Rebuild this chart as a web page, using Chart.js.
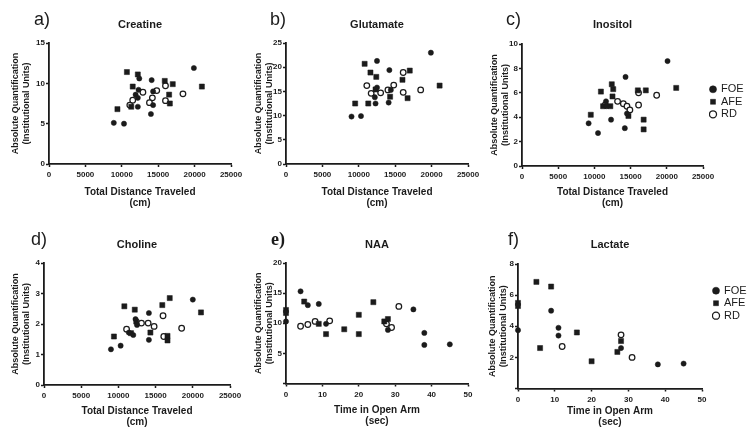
<!DOCTYPE html>
<html><head><meta charset="utf-8">
<script src="https://cdn.jsdelivr.net/npm/chart.js@4.4.1/dist/chart.umd.min.js"></script>
<style>
html,body{margin:0;padding:0;background:#fff;}
#wrap{position:relative;width:756px;height:442px;overflow:hidden;background:#fff;}
#wrap canvas{position:absolute;}
.lbl{position:absolute;font-family:"Liberation Sans",Arial,sans-serif;font-size:18px;line-height:18px;color:#1b1b1b;}
</style></head><body>
<div id="wrap">
<canvas id="cA" width="250" height="221" style="left:0px;top:0px"></canvas>
<canvas id="cB" width="235" height="221" style="left:250px;top:0px"></canvas>
<canvas id="cC" width="271" height="221" style="left:485px;top:0px"></canvas>
<canvas id="cD" width="250" height="221" style="left:0px;top:221px"></canvas>
<canvas id="cE" width="235" height="221" style="left:250px;top:221px"></canvas>
<canvas id="cF" width="271" height="221" style="left:485px;top:221px"></canvas>
<div class="lbl" id="lA" style="left:34px;top:10px"></div>
<div class="lbl" id="lB" style="left:270px;top:10px"></div>
<div class="lbl" id="lC" style="left:506px;top:10px"></div>
<div class="lbl" id="lD" style="left:31px;top:230px"></div>
<div class="lbl" id="lE" style="left:271px;top:230px;font-family:'Liberation Serif',serif;font-weight:bold"></div>
<div class="lbl" id="lF" style="left:508px;top:230px"></div>
</div>
<script>
// ---------- data ----------
const groups = ['FOE', 'AFE', 'RD'];
const panelLetters = ['a)', 'b)', 'c)', 'd)', 'e)', 'f)'];
const panelTitles = ['Creatine', 'Glutamate', 'Inositol', 'Choline', 'NAA', 'Lactate'];
const yAxisTitle = ['Absolute Quantification', '(Institutional Units)'];
const xTitleDistance = ['Total Distance Traveled', '(cm)'];
const xTitleTime = ['Time in Open Arm', '(sec)'];

const creatineFOE = [[8900,5.1],[10300,5.0],[12400,10.6],[14100,10.4],[19900,11.9],[12300,9.2],[14300,9.0],[11900,8.6],[12200,8.2],[12200,7.1],[14300,7.3],[14000,6.2]];
const creatineAFE = [[9400,6.8],[10700,11.4],[12200,11.1],[11500,9.6],[15900,10.3],[17000,9.9],[21000,9.6],[11300,7.1],[16500,8.6],[16600,7.5]];
const creatineRD  = [[12900,8.9],[14800,9.1],[11500,7.9],[11100,7.3],[14200,8.2],[13800,7.6],[16000,9.7],[16000,7.85],[18400,8.7]];

const glutamateFOE = [[9000,9.8],[10300,9.9],[12500,21.3],[14200,19.4],[19900,23.0],[12500,15.8],[12200,13.8],[12300,12.5],[14400,15.3],[14100,12.7]];
const glutamateAFE = [[9500,12.5],[10800,20.7],[11600,18.9],[12400,18.0],[17000,19.3],[16000,17.4],[21100,16.2],[12300,15.4],[11300,12.5],[14300,13.9],[16700,13.6]];
const glutamateRD  = [[16100,18.9],[11100,16.2],[11700,14.6],[13000,14.7],[14000,15.3],[14800,16.3],[16100,14.8],[18500,15.3]];

const inositolFOE = [[9200,3.5],[10500,2.7],[14300,7.3],[20100,8.6],[11600,5.3],[11700,4.9],[12300,3.8],[14500,4.3],[14200,3.1]];
const inositolAFE = [[9500,4.2],[10900,6.1],[12400,6.7],[12600,6.3],[12500,5.7],[16000,6.2],[17100,6.2],[21300,6.4],[11200,4.9],[12200,4.9],[14700,4.1],[16800,3.8],[16800,3.0]];
const inositolRD  = [[18600,5.8],[16100,6.0],[16100,5.0],[13200,5.3],[14000,5.1],[14500,4.9],[14900,4.6],[11500,5.0]];

const cholineFOE = [[9000,1.17],[10300,1.29],[14100,2.36],[20000,2.8],[12500,1.97],[11400,1.72],[12000,1.64],[14100,1.48],[12300,2.16]];
const cholineAFE = [[9400,1.59],[10800,2.58],[12200,2.47],[15900,2.62],[16900,2.85],[21100,2.38],[12400,2.08],[14300,1.72],[16600,1.61],[16600,1.46],[11700,1.70]];
const cholineRD  = [[16000,2.27],[18500,1.86],[11100,1.83],[13100,2.03],[14000,2.03],[14800,1.92],[16100,1.59]];

const naaFOE = [[0,10.3],[4,15.3],[6,13.0],[9,13.2],[11,9.9],[28,8.9],[35,12.3],[38,8.4],[38,6.4],[45,6.5]];
const naaAFE = [[0,12.2],[0,11.7],[5,13.6],[9,9.9],[11,8.2],[16,9.0],[20,11.4],[20,8.2],[24,13.5],[27,10.3],[28,10.7]];
const naaRD  = [[4,9.5],[6,9.8],[8,10.3],[12,10.4],[31,12.8],[27.6,9.9],[29,9.3]];

const lactateFOE = [[0,3.75],[9,5.0],[11,3.9],[11,3.4],[28,2.6],[38,1.55],[45,1.6]];
const lactateAFE = [[0,5.5],[0,5.3],[5,6.85],[9,6.55],[6,2.6],[16,3.6],[20,1.75],[27,2.35],[28,3.05]];
const lactateRD  = [[12,2.7],[28,3.45],[31,2.0]];

// ---------- styling / layout ----------
const FONT = '"Liberation Sans", Arial, sans-serif';
const INK = '#1b1b1b';
const markerStyles = [
  {pointStyle:'circle', pointRadius:2.6, backgroundColor:INK, borderColor:INK, borderWidth:0.5},
  {pointStyle:'rect',   pointRadius:3.6, backgroundColor:INK, borderColor:INK, borderWidth:0.5},
  {pointStyle:'circle', pointRadius:2.8, backgroundColor:'#ffffff', borderColor:INK, borderWidth:1.25}
];

const panels = [
  {id:'cA', lbl:'lA', k:0, xTitle:xTitleDistance, data:[creatineFOE, creatineAFE, creatineRD], xMax:25000, xStep:5000, yMax:15, yStep:5, hideZero:false, legend:null,
   lay:{yW:49, padR:19, tTop:18.4, tBot:11.4, xH:57, xtBot:12.5, ytTop:10.75}},
  {id:'cB', lbl:'lB', k:1, xTitle:xTitleDistance, data:[glutamateFOE, glutamateAFE, glutamateRD], xMax:25000, xStep:5000, yMax:25, yStep:5, hideZero:false, legend:null,
   lay:{yW:36, padR:17, tTop:18.4, tBot:11.4, xH:57, xtBot:12.5, ytTop:3.75}},
  {id:'cC', lbl:'lC', k:2, xTitle:xTitleDistance, data:[inositolFOE, inositolAFE, inositolRD], xMax:25000, xStep:5000, yMax:10, yStep:2, hideZero:false, legend:{dx:6, dy:38.3},
   lay:{yW:37, padR:53, tTop:18.4, tBot:12.4, xH:55, xtBot:12.5, ytTop:4.75}},
  {id:'cD', lbl:'lD', k:3, xTitle:xTitleDistance, data:[cholineFOE, cholineAFE, cholineRD], xMax:25000, xStep:5000, yMax:4, yStep:1, hideZero:false, legend:null,
   lay:{yW:44, padR:20, tTop:17.4, tBot:11.4, xH:57, xtBot:14, ytTop:10.25}},
  {id:'cE', lbl:'lE', k:4, xTitle:xTitleTime, data:[naaFOE, naaAFE, naaRD], xMax:50, xStep:10, yMax:20, yStep:5, hideZero:true, legend:null,
   lay:{yW:36, padR:17, tTop:17.4, tBot:11.4, xH:58.5, xtBot:14.8, ytTop:3.75}},
  {id:'cF', lbl:'lF', k:5, xTitle:xTitleTime, data:[lactateFOE, lactateAFE, lactateRD], xMax:50, xStep:10, yMax:8, yStep:2, hideZero:true, legend:{dx:10, dy:19.7},
   lay:{yW:33, padR:54, tTop:17.4, tBot:12.4, xH:53.5, xtBot:14, ytTop:2.75}}
];

const legendPlace = {
  id: 'legendPlace',
  afterLayout(chart, args, opts) {
    const lg = chart.legend;
    if (!lg || !opts || opts.dx === undefined) return;
    const ca = chart.chartArea;
    const w = lg.width, h = lg.height;
    lg.left = ca.right + opts.dx; lg.right = lg.left + w;
    lg.top = ca.top + opts.dy; lg.bottom = lg.top + h;
  }
};

const tickFont = {family: FONT, size: 8, weight: 'bold'};

panels.forEach(p => {
  document.getElementById(p.lbl).textContent = panelLetters[p.k];
  const L = p.lay;
  const datasets = p.data.map((pts, i) => Object.assign({label: groups[i], data: pts, clip: false}, markerStyles[i]));
  new Chart(document.getElementById(p.id), {
    type: 'scatter',
    data: {datasets},
    plugins: [legendPlace],
    options: {
      responsive: false, maintainAspectRatio: false, animation: false, devicePixelRatio: 1, events: [],
      layout: {autoPadding: false, padding: {left: 0, top: 0, right: L.padR, bottom: 0}},
      plugins: {
        tooltip: {enabled: false},
        title: {display: true, text: panelTitles[p.k], fullSize: false, color: INK,
                font: {family: FONT, size: 11, weight: 'bold', lineHeight: 1.2},
                padding: {top: L.tTop, bottom: L.tBot}},
        legend: p.legend ? {
          display: true, position: 'chartArea', align: 'start',
          labels: {usePointStyle: true, boxWidth: 5, boxHeight: 5, padding: 1.5, color: INK,
                   font: {family: FONT, size: 11}}
        } : {display: false},
        legendPlace: p.legend ? p.legend : {}
      },
      scales: {
        x: {
          type: 'linear', position: 'bottom', min: 0, max: p.xMax,
          afterFit: s => { s.height = L.xH; },
          border: {display: true, color: INK, width: 1.8},
          grid: {display: true, drawOnChartArea: false, drawTicks: true, tickLength: 3, tickWidth: 1.5, tickColor: INK},
          ticks: {stepSize: p.xStep, maxRotation: 0, autoSkip: false, padding: 3, color: INK, font: tickFont,
                  callback: v => String(v)},
          title: {display: true, text: p.xTitle, color: INK,
                  font: {family: FONT, size: 10, weight: 'bold', lineHeight: 1.1},
                  padding: {top: 0, bottom: L.xtBot}}
        },
        y: {
          type: 'linear', position: 'left', min: 0, max: p.yMax,
          afterFit: s => { s.width = L.yW; },
          border: {display: true, color: INK, width: 1.8},
          grid: {display: true, drawOnChartArea: false, drawTicks: true, tickLength: 3, tickWidth: 1.5, tickColor: INK},
          ticks: {stepSize: p.yStep, padding: 1, color: INK, font: tickFont,
                  callback: v => (p.hideZero && v === 0) ? '' : String(v)},
          title: {display: true, text: yAxisTitle, color: INK,
                  font: {family: FONT, size: 9, weight: 'bold', lineHeight: 1.17},
                  padding: {top: L.ytTop, bottom: 0}}
        }
      }
    }
  });
});
</script>
</body></html>
